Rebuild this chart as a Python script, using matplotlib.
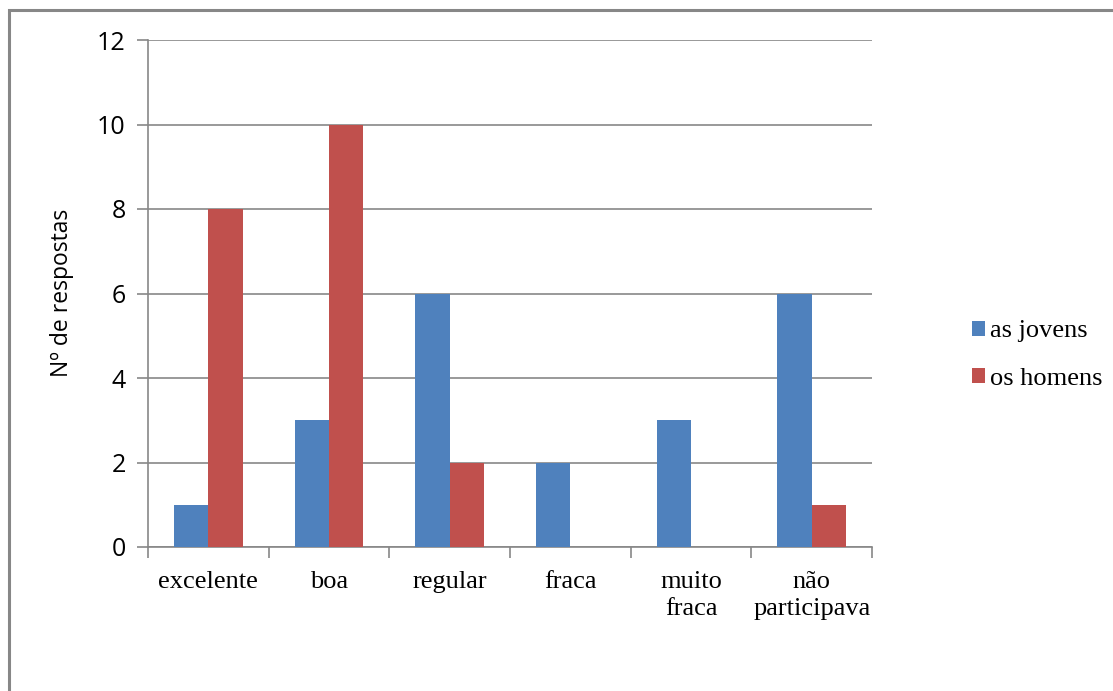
import numpy as np
import matplotlib
matplotlib.use("Agg")
import matplotlib.pyplot as plt
from matplotlib.patches import Rectangle, Patch

categorias = ["excelente", "boa", "regular", "fraca", "muito\nfraca", "não\nparticipava"]
as_jovens = [1, 3, 6, 2, 3, 6]
os_homens = [8, 10, 2, 0, 0, 1]
series = ["as jovens", "os homens"]

AZUL = "#4F81BD"
VERMELHO = "#C0504D"
CINZA = "#878787"

W, H = 1113, 691
fig = plt.figure(figsize=(W / 100, H / 100), dpi=100)

# moldura do gráfico
fig.add_artist(Rectangle((8.5 / W, -0.1), 1.2, (H - 10) / H + 0.1,
                         transform=fig.transFigure, fill=False,
                         edgecolor=CINZA, linewidth=2.2))

ax = fig.add_axes([148 / W, (H - 547) / H, (872 - 148) / W, (547 - 40) / H])

x = np.arange(len(categorias))
bw = 1 / 3.5
ax.bar(x - bw / 2, as_jovens, bw, color=AZUL, zorder=3)
ax.bar(x + bw / 2, os_homens, bw, color=VERMELHO, zorder=3)

ax.set_xlim(-0.5, len(categorias) - 0.5)
ax.set_ylim(0, 12)
ax.set_yticks(np.arange(0, 13, 2))
ax.yaxis.grid(True, color=CINZA, linewidth=1.2, zorder=0)

ax.set_xticks(x)
ax.set_xticklabels(categorias, fontfamily="Liberation Serif", fontsize=19,
                   linespacing=1.3)
ax.set_xticks(np.arange(-0.5, len(categorias)), minor=True)
ax.tick_params(axis="x", which="major", length=0, pad=17)
ax.tick_params(axis="x", which="minor", length=8, width=1.2, color=CINZA,
               direction="out")
ax.tick_params(axis="y", length=8, width=1.2, color=CINZA, pad=8,
               labelsize=18)
for lab in ax.get_yticklabels():
    lab.set_fontfamily("Open Sans")

for s in ["top", "right"]:
    ax.spines[s].set_visible(False)
for s in ["left", "bottom"]:
    ax.spines[s].set_color(CINZA)
    ax.spines[s].set_linewidth(1.2)

fig.text(62 / W, 1 - 293 / H, "Nº de respostas", rotation=90, ha="center",
         va="center", fontsize=16.5, fontfamily="Open Sans")

handles = [Patch(facecolor=AZUL), Patch(facecolor=VERMELHO)]
fig.legend(handles, series, loc="center left",
           bbox_to_anchor=(961 / W, 1 - 355 / H), frameon=False,
           prop={"family": "Liberation Serif", "size": 19},
           handlelength=0.5, handleheight=0.5, handletextpad=0.2,
           labelspacing=0.95, borderaxespad=0)

fig.savefig("out.png", dpi=100)
